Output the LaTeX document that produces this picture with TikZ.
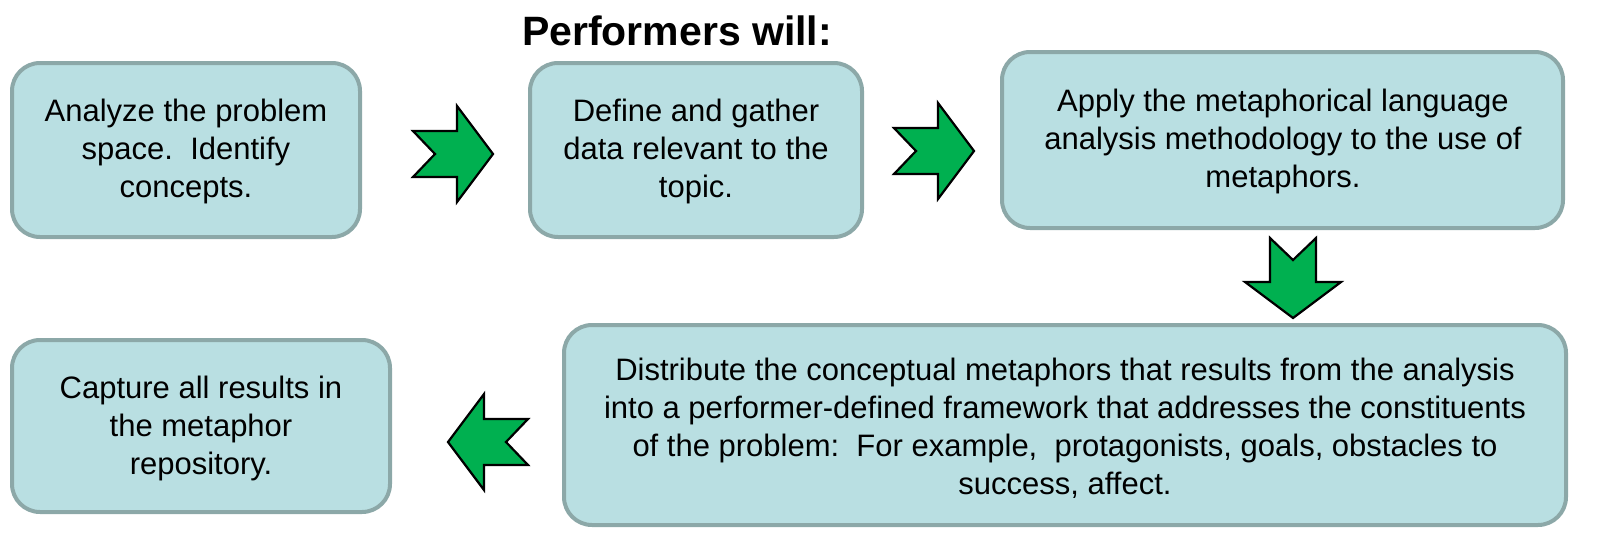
\documentclass[tikz,border=0pt]{standalone}
\usepackage{fontspec}
\setmainfont{Liberation Sans}
\definecolor{boxfill}{HTML}{B9DFE2}
\definecolor{boxline}{HTML}{8CA8A8}
\definecolor{arrowgreen}{HTML}{00B050}
\tikzset{
  stepbox/.style={draw=boxline, fill=boxfill, line width=4pt, rounded corners=28pt},
  boxtext/.style={align=center, font=\fontsize{31}{38}\selectfont, inner sep=0pt},
  notcharrow/.pic={
    \draw[fill=arrowgreen, draw=black, line width=2.2pt, line join=miter]
      (-40,-23) -- (-18,0) -- (-40,23) -- (4,23) -- (4,48) -- (40,0) -- (4,-48) -- (4,-23) -- cycle;
  }
}
\begin{document}
\begin{tikzpicture}[x=1pt, y=-1pt]
\useasboundingbox (0,0) rectangle (1598,536);
\node[font=\fontsize{41}{48}\selectfont\bfseries, inner sep=0pt] (title) at (677,31) {Performers will:};

\draw[stepbox] (12,63) rectangle (360,237);
\node[boxtext] (t1) at (186,151) {Analyze the problem\\space.\ \ Identify\\concepts.};

\draw[stepbox] (530,63) rectangle (862,237);
\node[boxtext] (t2) at (696,151) {Define and gather\\data relevant to the\\topic.};

\draw[stepbox] (1002,52) rectangle (1563,228);
\node[boxtext] (t3) at (1283,141) {Apply the metaphorical language\\analysis methodology to the use of\\metaphors.};

\draw[stepbox] (564,325) rectangle (1566,525);
\node[boxtext] (t4) at (1065,428) {Distribute the conceptual metaphors that results from the analysis\\into a performer-defined framework that addresses the constituents\\of the problem:\ \ For example,\ \ protagonists, goals, obstacles to\\success, affect.};

\draw[stepbox] (12,340) rectangle (390,512);
\node[boxtext] (t5) at (201,428) {Capture all results in\\the metaphor\\repository.};

\pic at (453,154) {notcharrow};
\pic at (934,151) {notcharrow};
\pic[rotate=-90] at (1293,278) {notcharrow};
\pic[rotate=180] at (488,442) {notcharrow};
\end{tikzpicture}
\end{document}
